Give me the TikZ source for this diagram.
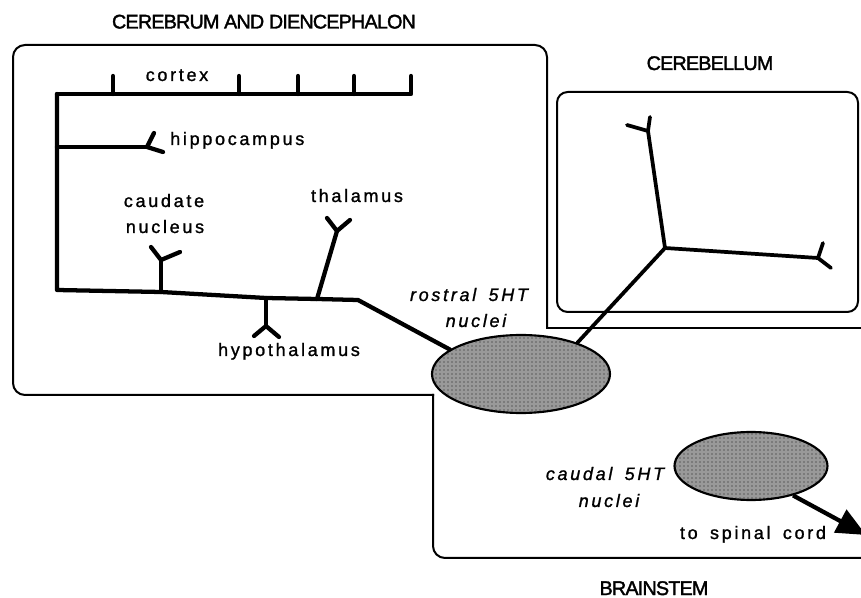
\documentclass[tikz,border=0pt]{standalone}
\usepackage{fontspec}
\setmainfont{Liberation Sans}
\newfontfamily\lblfont[LetterSpace=15,FakeBold=1.2,WordSpace=1.6]{Liberation Sans}
\newfontfamily\ttlfont[LetterSpace=-4,FakeBold=1.8]{Liberation Sans}
\usetikzlibrary{shapes.geometric,patterns,arrows.meta}
\begin{document}
\begin{tikzpicture}[x=0.75pt,y=-0.75pt,
  frame/.style={line width=1.5pt, rounded corners=9pt, line cap=rect},
  axon/.style={line width=3.2pt, line cap=round, line join=round},
  cax/.style={line width=2.8pt, line cap=round, line join=round},
  lbl/.style={font=\fontsize{13.5}{18}\lblfont, inner sep=0pt, anchor=base},
  ilbl/.style={font=\fontsize{13.5}{18}\lblfont\itshape, inner sep=0pt, anchor=base},
  ttl/.style={font=\fontsize{14.8}{17}\ttlfont, inner sep=0pt, anchor=base},
  nuc/.style={ellipse, draw, line width=1.6pt, inner sep=0pt,
    preaction={fill=black!40}, pattern=dots, pattern color=black!90}
]
\useasboundingbox (0,0) rectangle (861,598);
\fill[white] (0,0) rectangle (861,598);

% frames
\draw[frame] (547,328) -- (547,45) -- (13,45) -- (13,395) -- (433,395);
\draw[frame] (433,395) -- (433,558) -- (875,558);
\draw[frame] (547,328) -- (875,328);
\draw[line width=1.5pt, rounded corners=8pt] (557,92) rectangle (858,312);

% titles
\node[ttl] (tcer) at (264,28.5) {CEREBRUM AND DIENCEPHALON};
\node[ttl] (tcbl) at (710,70) {CEREBELLUM};
\node[ttl] (tbs) at (654,595) {BRAINSTEM};

% nuclei
\node[nuc, minimum width=133.5pt, minimum height=58.5pt] (rostral) at (521,374) {};
\node[nuc, minimum width=114.75pt, minimum height=51pt] (caudal) at (751,466) {};

% coordinates
\coordinate (ctxL) at (57,94);
\coordinate (ctxR) at (411,94);
\coordinate (hipJ) at (57,147);
\coordinate (hipF) at (147,147);
\coordinate (mainL) at (57,290);
\coordinate (cauJ) at (161,292);
\coordinate (cauF) at (161,260);
\coordinate (hypJ) at (266,298);
\coordinate (hypF) at (266,326);
\coordinate (thaJ) at (317,299);
\coordinate (thaF) at (337,231);
\coordinate (bend) at (358,300);
\coordinate (cbJ) at (665,248);
\coordinate (cbU) at (648,131);
\coordinate (cbR) at (818,258);
\coordinate (spinal) at (866,535);

% cortex
\draw[axon] (ctxL) -- (ctxR) -- (411,76);
\foreach \x in {113,239,298,354} \draw[axon] (\x,94) -- (\x,76);
% main trunk
\draw[axon] (ctxL) -- (mainL) -- (cauJ) -- (hypJ) -- (thaJ) -- (bend) -- (rostral.161);
% hippocampus
\draw[axon] (hipJ) -- (hipF);
\draw[axon] (154,133) -- (hipF) -- (163,152);
% caudate
\draw[axon] (cauJ) -- (cauF);
\draw[axon] (151,247) -- (cauF) -- (180,252);
% hypothalamus
\draw[axon] (hypJ) -- (hypF);
\draw[axon] (254,336) -- (hypF) -- (279,337);
% thalamus
\draw[axon] (thaJ) -- (thaF);
\draw[axon] (327,218) -- (thaF) -- (350,220);
% cerebellum
\draw[cax] (rostral.29) -- (cbJ) -- (cbU) -- (650,117);
\draw[cax] (cbU) -- (627,125);
\draw[cax] (cbJ) -- (cbR) -- (823,243);
\draw[cax] (cbR) -- (831,268);
% to spinal cord
\draw[line width=3.2pt, -{Triangle[length=22pt,width=19pt]}] (caudal.-35) -- (spinal);

% labels
\node[lbl] (lctx) at (177,81) {cortex};
\node[lbl, anchor=base west] (lhip) at (170,145) {hippocampus};
\node[lbl] (lcau1) at (164,207) {caudate};
\node[lbl] (lcau2) at (165,233) {nucleus};
\node[lbl] (ltha) at (357,202) {thalamus};
\node[lbl] (lhyp) at (289,356) {hypothalamus};
\node[ilbl] (lros1) at (469,301) {rostral 5HT};
\node[ilbl] (lros2) at (476,327) {nuclei};
\node[ilbl] (lcaud1) at (605,480) {caudal 5HT};
\node[ilbl] (lcaud2) at (609,507) {nuclei};
\node[lbl] (lsp) at (753,539) {to spinal cord};
\end{tikzpicture}
\end{document}
